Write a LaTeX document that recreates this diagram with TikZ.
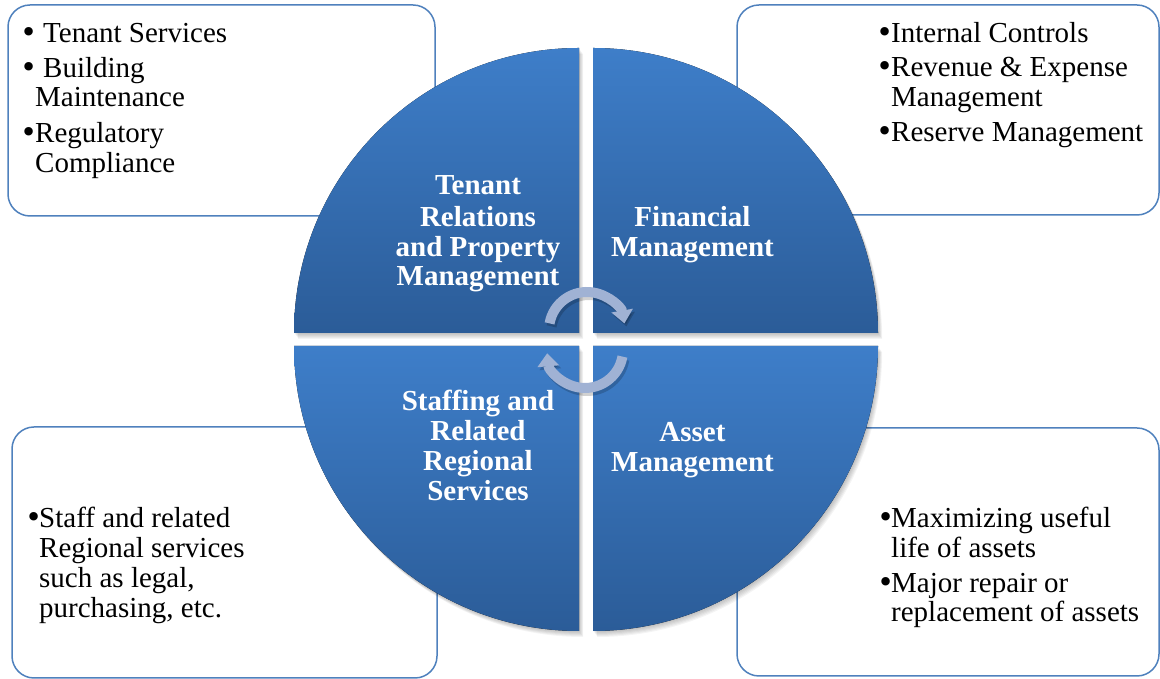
\documentclass[tikz,border=0pt]{standalone}
\usepackage{fontspec}
\setmainfont{Liberation Serif}
\newfontfamily\bulletfont{DejaVu Sans}
\usetikzlibrary{arrows.meta}
\definecolor{qtop}{RGB}{62,126,201}
\definecolor{qbot}{RGB}{43,92,152}
\definecolor{boxline}{RGB}{79,129,189}
\definecolor{arrcol}{RGB}{160,178,212}
% bullet set in a box of fixed width #1, followed by the item text
\newcommand\bitem[2]{\makebox[#1][l]{\bulletfont\char"2022}#2}
\newcommand\drawquad[3]{%
  \foreach \k in {1,...,6}{\fill[black,opacity=0.045,shift={(\k*0.7,-\k*1.0)}] (#1) -- ++(#2:285) arc[start angle=#2,end angle=#3,radius=285] -- cycle;}
  \fill[quad] (#1) -- ++(#2:285) arc[start angle=#2,end angle=#3,radius=285] -- cycle;}
\begin{document}
\begin{tikzpicture}[x=1bp,y=1bp,
 infobox/.style={draw=boxline, line width=1.5bp, rounded corners=22bp, fill=white},
 quad/.style={top color=qtop, bottom color=qbot, draw=none},
 txt/.style={anchor=base west, inner sep=0pt, font=\fontsize{29bp}{30bp}\selectfont},
 lbl/.style={anchor=base, inner sep=0pt, text=white, font=\fontsize{29bp}{30bp}\selectfont\bfseries},
 cyc/.style={draw=arrcol, line width=10bp, -{Triangle[width=21bp,length=13bp]}},
 cycshadow/.style={draw=black, opacity=0.18, line width=10bp, -{Triangle[width=21bp,length=13bp]}}
]
\useasboundingbox (0,0) rectangle (1160,679);
% information boxes
\draw[infobox] (8,463) rectangle (435,674);
\draw[infobox] (737,464) rectangle (1159,674);
\draw[infobox] (12,1) rectangle (437,252);
\draw[infobox] (737,3) rectangle (1159,251);
% box texts: top left
\node[txt] (t1) at (20,636) {\bitem{23bp}{Tenant Services}};
\node[txt] (t2) at (20,601) {\bitem{23bp}{Building}};
\node[txt] (t3) at (35,572) {Maintenance};
\node[txt] (t4) at (20,536) {\bitem{15bp}{Regulatory}};
\node[txt] (t5) at (35,506) {Compliance};
% top right
\node[txt] (t6) at (876,636) {\bitem{15bp}{Internal Controls}};
\node[txt] (t7) at (876,602) {\bitem{15bp}{Revenue \& Expense}};
\node[txt] (t8) at (891,572) {Management};
\node[txt] (t9) at (876,537) {\bitem{15bp}{Reserve Management}};
% bottom left
\node[txt] (t10) at (25,151) {\bitem{14bp}{Staff and related}};
\node[txt] (t11) at (39,121) {Regional services};
\node[txt] (t12) at (39,91) {such as legal,};
\node[txt] (t13) at (39,61) {purchasing, etc.};
% bottom right
\node[txt] (t14) at (877,151) {\bitem{14bp}{Maximizing useful}};
\node[txt] (t15) at (891,121) {life of assets};
\node[txt] (t16) at (877,86) {\bitem{14bp}{Major repair or}};
\node[txt] (t17) at (891,57) {replacement of assets};
% quadrants
\drawquad{579,346}{180}{90}
\drawquad{593,346}{90}{0}
\drawquad{579,333}{180}{270}
\drawquad{593,333}{0}{-90}
% quadrant labels
\node[lbl] (q1a) at (478,484) {Tenant};
\node[lbl] (q1b) at (478,452) {Relations};
\node[lbl] (q1c) at (478,422) {and Property};
\node[lbl] (q1d) at (478,393) {Management};
\node[lbl] (q2a) at (692.5,452) {Financial};
\node[lbl] (q2b) at (692.5,422) {Management};
\node[lbl] (q3a) at (478,268) {Staffing and};
\node[lbl] (q3b) at (478,238) {Related};
\node[lbl] (q3c) at (478,208) {Regional};
\node[lbl] (q3d) at (478,178) {Services};
\node[lbl] (q4a) at (692.5,237) {Asset};
\node[lbl] (q4b) at (692.5,207) {Management};
% circular arrows
\coordinate (c1) at (587,349);
\coordinate (c2) at (585,329);
\draw[cycshadow] ([shift={(170:38)}]589,346) arc[start angle=170,end angle=10,radius=38];
\draw[cycshadow] ([shift={(-10:38)}]587,326) arc[start angle=-10,end angle=-175,radius=38];
\draw[cyc] ([shift={(170:38)}]c1) arc[start angle=170,end angle=10,radius=38];
\draw[cyc] ([shift={(-10:38)}]c2) arc[start angle=-10,end angle=-175,radius=38];
\end{tikzpicture}
\end{document}
